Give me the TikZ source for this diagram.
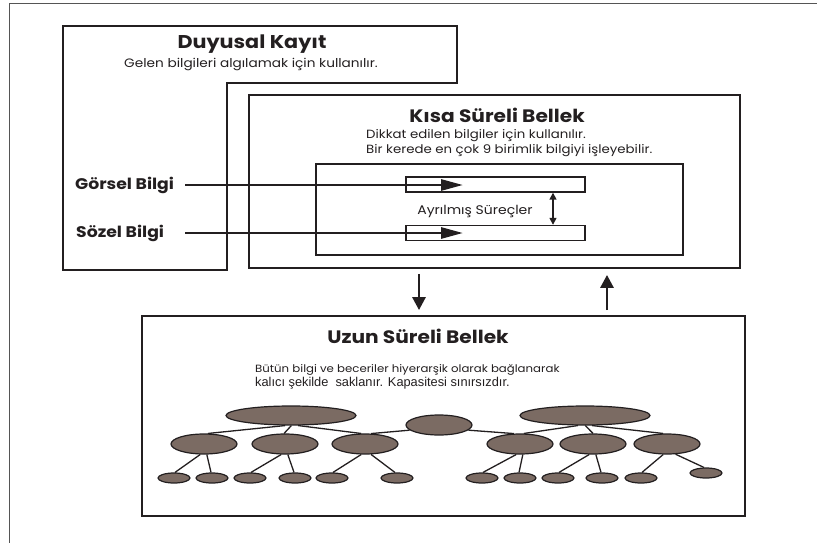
\documentclass[tikz,border=0pt]{standalone}
\usepackage{fontspec}
\setmainfont{Poppins}[FakeStretch=1.12]
\newfontfamily\arialf{Liberation Sans}
\usetikzlibrary{shapes.geometric,arrows.meta}
\definecolor{ink}{HTML}{231F20}
\definecolor{blob}{HTML}{7B6B63}
\definecolor{framec}{HTML}{555555}
\begin{document}
\begin{tikzpicture}[x=1pt,y=-1pt,
  panel/.style={draw=ink,line width=1.8pt,rectangle,inner sep=0pt},
  bar/.style={draw=ink,line width=1.4pt,rectangle,inner sep=0pt,minimum width=179pt,minimum height=15pt},
  bigE/.style={ellipse,draw=ink,fill=blob,line width=1.2pt,inner sep=0pt,minimum width=130pt,minimum height=19pt},
  midE/.style={ellipse,draw=ink,fill=blob,line width=1.2pt,inner sep=0pt,minimum width=66pt,minimum height=20pt},
  smallE/.style={ellipse,draw=ink,fill=blob,line width=1.2pt,inner sep=0pt,minimum width=32pt,minimum height=10pt},
  link/.style={draw=ink,line width=1.3pt},
  hflow/.style={draw=ink,line width=2.8pt,-{Triangle[length=22pt,width=11pt]}},
  vflow/.style={draw=ink,line width=2.8pt,-{Triangle[length=13pt,width=13pt]}},
  twoway/.style={draw=ink,line width=1.5pt,{Triangle[length=7pt,width=7pt]}-{Triangle[length=7pt,width=7pt]}},
  title/.style={font=\fontsize{18.5}{21}\selectfont\bfseries,inner sep=0pt,text=ink},
  sub/.style={font=\fontsize{12.2}{14}\selectfont,inner sep=0pt,text=ink},
  lbl/.style={font=\fontsize{15.4}{17}\selectfont\bfseries,inner sep=0pt,text=ink}
]
\useasboundingbox (0,0) rectangle (817,543);
% outer frame (left and top only)
\draw[framec,line width=1pt] (9,543) -- (9,4) -- (817,4);
% Duyusal Kayit panel
\draw[ink,line width=1.8pt] (63,26) -- (457,26) -- (457,83) -- (227,83) -- (227,270) -- (63,270) -- cycle;
\node[title] (dk) at (252,44) {Duyusal Kayıt};
\node[sub] (dks) at (251,65) {Gelen bilgileri algılamak için kullanılır.};
% Kisa Sureli Bellek
\node[panel,minimum width=491pt,minimum height=173pt] (kisa) at (494.5,181.5) {};
\node[title,font=\fontsize{18}{21}\selectfont\bfseries] (kt) at (497,115) {Kısa Süreli Bellek};
\node[sub,anchor=west,font=\fontsize{11.9}{14}\selectfont] (ks1) at (366,136) {Dikkat edilen bilgiler için kullanılır.};
\node[sub,anchor=west,font=\fontsize{11.9}{14}\selectfont] (ks2) at (366,151) {Bir kerede en çok 9 birimlik bilgiyi işleyebilir.};
\node[panel,line width=1.5pt,minimum width=367pt,minimum height=91pt] (inner) at (499.5,209.5) {};
\node[bar] (b1) at (495.5,184.5) {};
\node[bar] (b2) at (495.5,233) {};
\node[sub,font=\fontsize{12.5}{14}\selectfont] (ayr) at (475,211) {Ayrılmış Süreçler};
\draw[twoway] ([xshift=57.5pt]b1.south) -- ([xshift=57.5pt]b2.north);
% inputs
\node[lbl,anchor=west] (gor) at (75,185) {Görsel Bilgi};
\node[lbl,anchor=west] (soz) at (76,233) {Sözel Bilgi};
\coordinate (gstart) at (185,185);
\coordinate (sstart) at (185,233);
\coordinate (gtip) at (463,185);
\coordinate (stip) at (463,233);
\draw[hflow] (gstart) -- (gtip);
\draw[hflow] (sstart) -- (stip);
% Uzun Sureli Bellek
\node[panel,minimum width=603pt,minimum height=200pt] (uzun) at (443.5,416) {};
\draw[vflow] ([xshift=-75.5pt,yshift=-5pt]kisa.south) -- ([xshift=-24.5pt,yshift=5pt]uzun.north);
\draw[vflow] ([xshift=163.5pt,yshift=5pt]uzun.north) -- ([xshift=112.5pt,yshift=-6pt]kisa.south);
\node[title,font=\fontsize{18}{21}\selectfont\bfseries] (ut) at (418,336) {Uzun Süreli Bellek};
\node[sub,anchor=west,font=\fontsize{10.5}{13}\selectfont] (us1) at (255,370) {Bütün bilgi ve beceriler hiyerarşik olarak bağlanarak};
\node[sub,anchor=west,font=\arialf\fontsize{12.8}{15}\selectfont] (us2) at (255,383) {kalıcı şekilde\ \ saklanır. Kapasitesi sınırsızdır.};
% tree
\node[bigE] (L) at (291,415.5) {};
\node[bigE] (R) at (585,415.5) {};
\node[midE] (M) at (439,425) {};
\node[midE] (L1) at (204,444) {};
\node[midE] (L2) at (285,444) {};
\node[midE] (L3) at (365,444) {};
\node[midE] (R1) at (520,444) {};
\node[midE] (R2) at (593,444) {};
\node[midE] (R3) at (667,444) {};
\node[smallE] (a1) at (174,478) {};
\node[smallE] (a2) at (212,478) {};
\node[smallE] (a3) at (250,478) {};
\node[smallE] (a4) at (295,478) {};
\node[smallE] (a5) at (332,478) {};
\node[smallE] (a6) at (397,478) {};
\node[smallE] (c1) at (482,478) {};
\node[smallE] (c2) at (520,478) {};
\node[smallE] (c3) at (558,478) {};
\node[smallE] (c4) at (602,478) {};
\node[smallE] (c5) at (641,478) {};
\node[smallE] (c6) at (706,473) {};
\draw[link] (L.240) -- (L1.70);
\draw[link] (L.272) -- (L2.95);
\draw[link] (L.305) -- (L3.110);
\draw[link] (M.190) -- (L3.60);
\draw[link] (M.350) -- (R1.120);
\draw[link] (R.235) -- (R1.70);
\draw[link] (R.272) -- (R2.90);
\draw[link] (R.305) -- (R3.110);
\draw[link] (L1.250) -- (a1.80);
\draw[link] (L1.285) -- (a2.100);
\draw[link] (L2.250) -- (a3.80);
\draw[link] (L2.285) -- (a4.100);
\draw[link] (L3.250) -- (a5.80);
\draw[link] (L3.300) -- (a6.110);
\draw[link] (R1.250) -- (c1.80);
\draw[link] (R1.285) -- (c2.100);
\draw[link] (R2.250) -- (c3.80);
\draw[link] (R2.285) -- (c4.100);
\draw[link] (R3.250) -- (c5.80);
\draw[link] (R3.310) -- (c6.110);
\end{tikzpicture}
\end{document}
